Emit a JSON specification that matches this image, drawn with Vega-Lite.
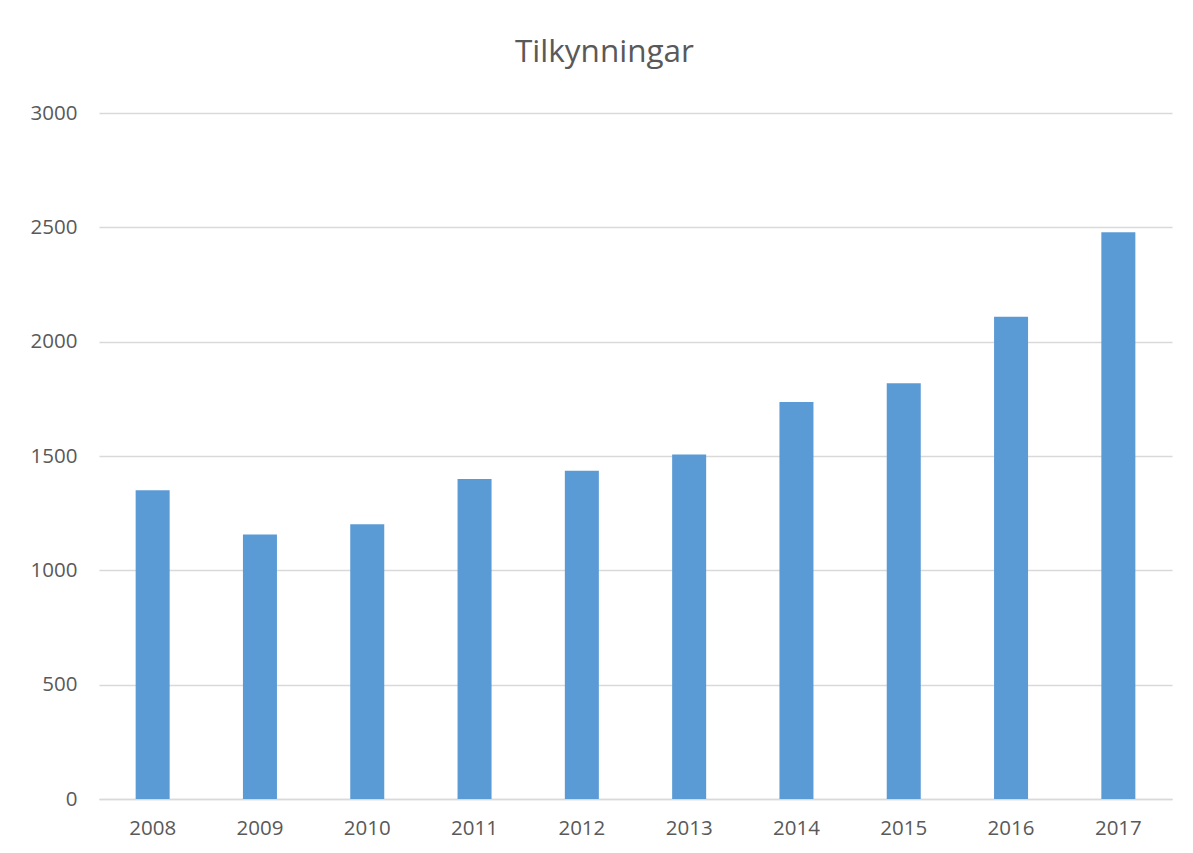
{
  "$schema": "https://vega.github.io/schema/vega-lite/v6.json",
  "autosize": "none",
  "width": 1073,
  "height": 686,
  "padding": {"left": 99, "top": 113, "right": 21, "bottom": 54},
  "background": "white",
  "title": {
    "text": "Tilkynningar",
    "fontSize": 31.5,
    "font": "Open Sans",
    "fontWeight": "normal",
    "color": "#595959",
    "anchor": "middle",
    "dx": -31,
    "offset": 35
  },
  "data": {
    "values": [
      {"year": "2008", "count": 1350},
      {"year": "2009", "count": 1157},
      {"year": "2010", "count": 1201},
      {"year": "2011", "count": 1399},
      {"year": "2012", "count": 1435},
      {"year": "2013", "count": 1507},
      {"year": "2014", "count": 1736},
      {"year": "2015", "count": 1818},
      {"year": "2016", "count": 2109},
      {"year": "2017", "count": 2478}
    ]
  },
  "mark": {"type": "bar", "color": "#5B9BD5"},
  "encoding": {
    "x": {
      "field": "year",
      "type": "nominal",
      "title": null,
      "scale": {"paddingInner": 0.683, "paddingOuter": 0.3415},
      "axis": {
        "labelAngle": 0,
        "ticks": false,
        "domainColor": "#D9D9D9",
        "domainWidth": 1.5,
        "labelFont": "Open Sans",
        "labelFontSize": 20.5,
        "labelColor": "#595959",
        "labelPadding": 19
      }
    },
    "y": {
      "field": "count",
      "type": "quantitative",
      "title": null,
      "scale": {"domain": [0, 3000], "nice": false},
      "axis": {
        "values": [0, 500, 1000, 1500, 2000, 2500, 3000],
        "format": "d",
        "domain": false,
        "ticks": false,
        "gridColor": "#D9D9D9",
        "gridWidth": 1.5,
        "labelFont": "Open Sans",
        "labelFontSize": 20.5,
        "labelColor": "#595959",
        "labelPadding": 22
      }
    }
  },
  "config": {"view": {"stroke": null}}
}
